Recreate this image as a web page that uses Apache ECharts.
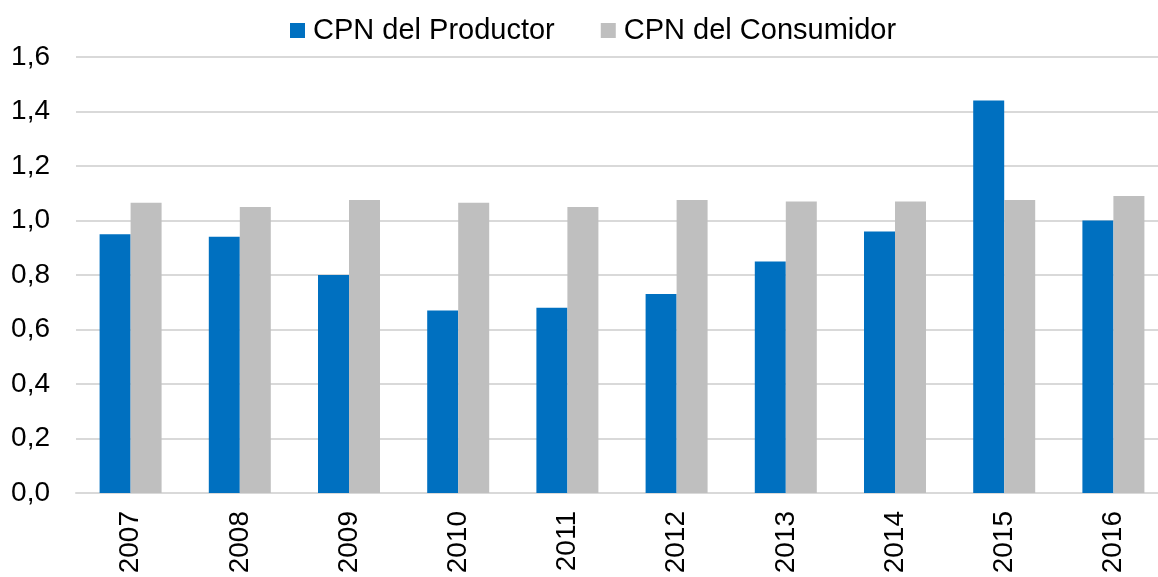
<!DOCTYPE html>
<html>
<head>
<meta charset="utf-8">
<script src="https://cdn.jsdelivr.net/npm/echarts@6/dist/echarts.min.js"></script>
<style>
  html, body { margin: 0; padding: 0; background: #fff; overflow: hidden; }
  /* el área de trazado sigue unos px más allá del borde derecho */
  #chart { width: 1168px; height: 577px; }
</style>
</head>
<body>
<div id="chart"></div>
<script>
  // datos
  var years = ['2007', '2008', '2009', '2010', '2011', '2012', '2013', '2014', '2015', '2016'];
  var productor = [0.95, 0.94, 0.80, 0.67, 0.68, 0.73, 0.85, 0.96, 1.44, 1.00];
  var consumidor = [1.065, 1.05, 1.075, 1.065, 1.05, 1.075, 1.07, 1.07, 1.075, 1.09];
  var seriesNames = ['CPN del Productor', 'CPN del Consumidor'];

  var font = '"Liberation Sans", Arial, sans-serif';
  var color = ['#0070C0', '#BFBFBF'];

  var myChart = echarts.init(document.getElementById('chart'));
  var option = {
    animation: false,
    color: color,
    textStyle: { fontFamily: font },
    legend: {
      left: 285,
      top: 11,
      itemWidth: 15,
      itemHeight: 15,
      itemGap: 46,
      icon: 'rect',
      textStyle: { fontSize: 29, color: '#000', fontFamily: font, padding: [0, 0, 0, 3] },
      data: seriesNames
    },
    grid: {
      left: 76,
      top: 57,
      right: 0,
      bottom: 84,
      containLabel: false
    },
    xAxis: {
      type: 'category',
      data: years,
      axisTick: { show: false },
      axisLine: { lineStyle: { color: '#D9D9D9', width: 2 } },
      axisLabel: {
        rotate: 90,
        margin: 18,
        fontSize: 28,
        color: '#000',
        fontFamily: font
      }
    },
    yAxis: {
      type: 'value',
      min: 0,
      max: 1.6,
      interval: 0.2,
      axisLine: { show: false },
      axisTick: { show: false },
      splitLine: { lineStyle: { color: '#D9D9D9', width: 2 } },
      axisLabel: {
        margin: 26,
        fontSize: 28,
        color: '#000',
        fontFamily: font,
        formatter: function (v) {
          return v.toFixed(1).replace('.', ',');
        }
      }
    },
    series: [
      {
        name: seriesNames[0],
        type: 'bar',
        barWidth: 31,
        barGap: '0%',
        itemStyle: { color: color[0] },
        data: productor
      },
      {
        name: seriesNames[1],
        type: 'bar',
        barWidth: 31,
        barGap: '0%',
        itemStyle: { color: color[1] },
        data: consumidor
      }
    ]
  };
  myChart.setOption(option, true);
</script>
</body>
</html>
